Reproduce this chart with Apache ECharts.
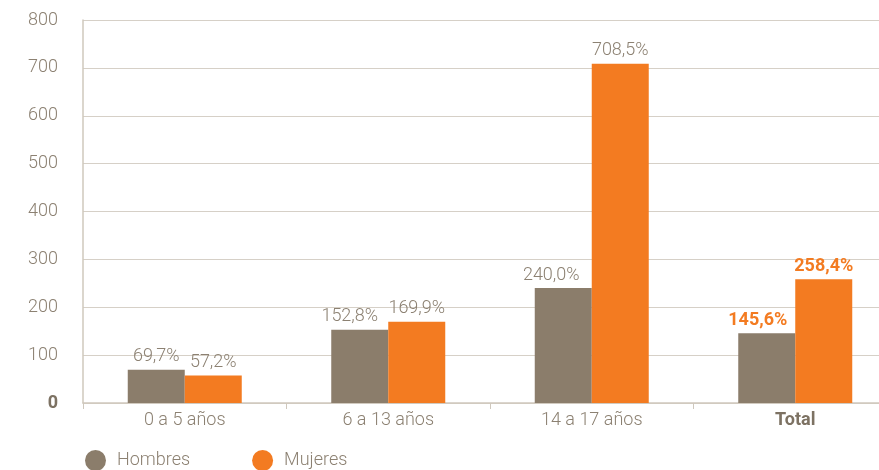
<!DOCTYPE html>
<html><head><meta charset="utf-8">
<script src="https://cdn.jsdelivr.net/npm/echarts@6/dist/echarts.min.js"></script>
<style>html,body{margin:0;padding:0;background:#fff;overflow:hidden}#c{width:897px;height:470px}</style>
</head><body><div id="c"></div>
<script>
const categories = ['0 a 5 años', '6 a 13 años', '14 a 17 años', 'Total'];
const hombres = [69.7, 152.8, 240.0, 145.6];
const mujeres = [57.2, 169.9, 708.5, 258.4];
const yTicks = [0, 100, 200, 300, 400, 500, 600, 700, 800];

const gray = '#8B7D6B', orange = '#F37B21', txt = '#8c8172';
// horizontal nudges of the Hombres value labels (style only)
const hLabelShift = [0, -10, -12, -9];
const fmt = v => v.toFixed(1).replace('.', ',') + '%';
function mk(arr, isH) {
  return arr.map((v, i) => {
    const last = i === arr.length - 1;
    const lab = { offset: [isH ? hLabelShift[i] : 0, 0] };
    if (last) { lab.color = orange; lab.fontWeight = 'bold'; }
    return { value: v, label: lab };
  });
}
const chart = echarts.init(document.getElementById('c'));
chart.setOption({
  animation: false,
  textStyle: { fontFamily: 'Roboto' },
  grid: { left: 83, right: 0, top: 20, bottom: 67, containLabel: false },
  legend: {
    top: 445, left: 80, itemGap: 62, icon: 'circle', itemWidth: 21, itemHeight: 21,
    textStyle: { color: txt, fontSize: 18, fontFamily: 'Roboto', fontWeight: 300, padding: [0, 0, 0, 6] },
    data: ['Hombres', 'Mujeres']
  },
  xAxis: {
    type: 'category', data: categories,
    axisLine: { lineStyle: { color: '#cfc8bd', width: 1.5 } },
    axisTick: { show: true, length: 6, lineStyle: { color: '#cfc8bd' } },
    axisLabel: {
      fontSize: 18, color: txt, margin: 8, fontFamily: 'Roboto', fontWeight: 300,
      formatter: v => v === 'Total' ? '{b|' + v + '}' : v,
      rich: { b: { fontWeight: 'bold', color: '#7d7263', fontSize: 18, fontFamily: 'Roboto' } }
    }
  },
  yAxis: {
    type: 'value', min: 0, max: 800, interval: 100,
    axisLine: { show: true, lineStyle: { color: '#cfc8bd', width: 1.5 } },
    splitLine: { lineStyle: { color: '#d6d0c7', width: 1.2 } },
    axisLabel: {
      fontSize: 18, color: txt, margin: 25, fontFamily: 'Roboto', fontWeight: 300,
      formatter: v => v === 0 ? '{b|0}' : String(v),
      rich: { b: { fontWeight: 'bold', color: '#7d7263', fontSize: 18, fontFamily: 'Roboto' } }
    }
  },
  series: [
    {
      name: 'Hombres', type: 'bar', data: mk(hombres, true), barWidth: 57, barGap: '0%',
      itemStyle: { color: gray },
      label: { show: true, position: 'top', distance: 4, color: txt, fontSize: 18, fontFamily: 'Roboto', fontWeight: 300, formatter: p => fmt(p.value) }
    },
    {
      name: 'Mujeres', type: 'bar', data: mk(mujeres, false), barWidth: 57, barGap: '0%',
      itemStyle: { color: orange },
      label: { show: true, position: 'top', distance: 4, color: txt, fontSize: 18, fontFamily: 'Roboto', fontWeight: 300, formatter: p => fmt(p.value) }
    }
  ]
});
</script></body></html>
